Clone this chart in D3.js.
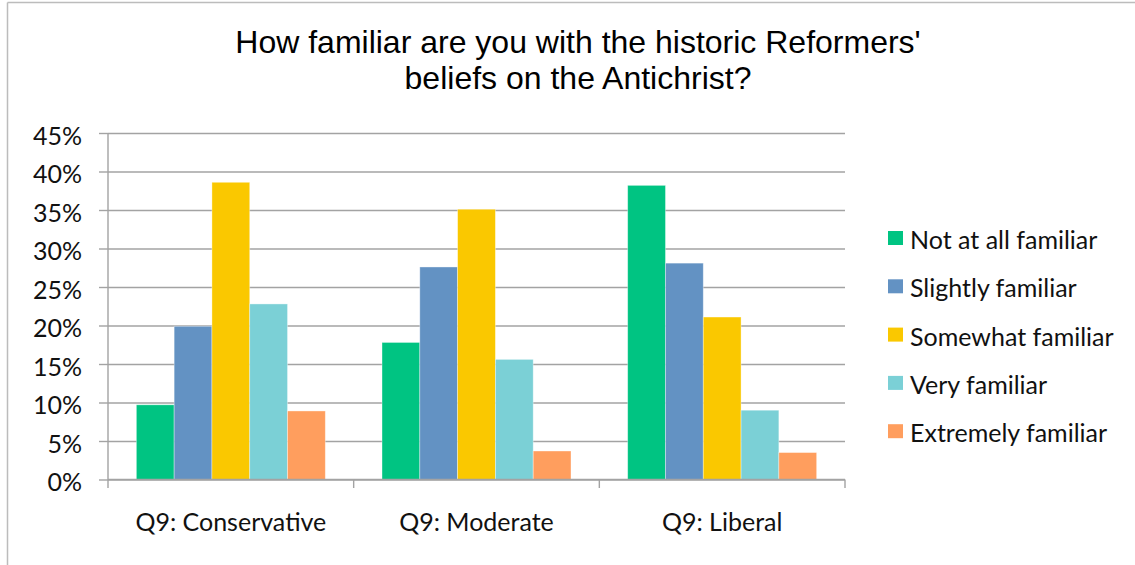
<!DOCTYPE html>
<html>
<head>
<meta charset="utf-8">
<script src="https://cdn.jsdelivr.net/npm/d3@7"></script>
<style>
  html, body { margin: 0; padding: 0; background: #fff; }
  svg { display: block; }
  .lbl { font-family: Lato, "Open Sans", sans-serif; fill: #111; }
</style>
</head>
<body>
<svg id="chart" width="1135" height="565"></svg>
<script>
const titleLines = ["How familiar are you with the historic Reformers'", "beliefs on the Antichrist?"];
const categories = ["Q9: Conservative", "Q9: Moderate", "Q9: Liberal"];
const seriesNames = ["Not at all familiar", "Slightly familiar", "Somewhat familiar", "Very familiar", "Extremely familiar"];
const seriesColors = ["#00C482", "#6392C3", "#FAC800", "#7BD0D6", "#FF9E5E"];
const notAtAll   = [9.7, 17.8, 38.2];
const slightly   = [19.9, 27.6, 28.1];
const somewhat   = [38.6, 35.1, 21.1];
const very       = [22.8, 15.6, 9.0];
const extremely  = [8.9, 3.7, 3.5];
const yTicks = [0, 5, 10, 15, 20, 25, 30, 35, 40, 45];

const seriesValues = [notAtAll, slightly, somewhat, very, extremely];

const svg = d3.select("#chart");

// outer chart border (top and left visible)
svg.append("line").attr("x1", 7.5).attr("x2", 1135).attr("y1", 2.5).attr("y2", 2.5)
  .attr("stroke", "#bcbcbc").attr("stroke-width", 1.5);
svg.append("line").attr("x1", 7.5).attr("x2", 7.5).attr("y1", 2.5).attr("y2", 565)
  .attr("stroke", "#bcbcbc").attr("stroke-width", 1.5);

// title
svg.append("text")
  .attr("text-anchor", "middle")
  .style("font-family", "'Liberation Sans', Arial, sans-serif")
  .style("font-size", "32px").attr("fill", "#000")
  .selectAll("tspan").data(titleLines).join("tspan")
  .attr("x", 578).attr("y", (d, i) => 53 + i * 35.5)
  .text(d => d);

const pLeft = 108, pRight = 845, pTop = 133, pBottom = 479.5;

const x0 = d3.scaleBand().domain(categories).range([pLeft, pRight]).padding(0);
const x1 = d3.scaleBand().domain(d3.range(seriesNames.length)).range([0, x0.bandwidth()])
  .paddingInner(0).paddingOuter(0.75);
const y = d3.scaleLinear().domain([0, 45]).range([pBottom, pTop]);

const gridColor = "#a3a3a3";

// gridlines
const grid = svg.append("g").attr("transform", `translate(${pLeft},0)`)
  .call(d3.axisLeft(y).tickValues(yTicks).tickSize(-(pRight - pLeft)).tickFormat(""));
grid.select(".domain").remove();
grid.selectAll("line").attr("stroke", gridColor).attr("stroke-width", 1.4);

// y axis with labels
const yAxis = svg.append("g").attr("transform", `translate(${pLeft},0)`)
  .call(d3.axisLeft(y).tickValues(yTicks).tickSize(9).tickSizeOuter(0).tickPadding(17)
    .tickFormat(d => d + "%"));
yAxis.select(".domain").remove();
yAxis.selectAll("line").attr("stroke", gridColor).attr("stroke-width", 1.4);
yAxis.selectAll("text").attr("class", "lbl").attr("dy", "0.45em")
  .style("font-size", "25px").style("font-family", "Lato, sans-serif").attr("fill", "#111");

// bars
const groups = svg.append("g").selectAll("g").data(categories).join("g")
  .attr("transform", d => `translate(${x0(d)},0)`);
groups.selectAll("rect")
  .data((c, ci) => seriesValues.map((vals, si) => ({ si, v: vals[ci] })))
  .join("rect")
  .attr("x", d => x1(d.si))
  .attr("width", x1.bandwidth())
  .attr("y", d => y(d.v))
  .attr("height", d => y(0) - y(d.v))
  .attr("fill", d => seriesColors[d.si])
  .attr("stroke", "#ffffff").attr("stroke-opacity", 0.45).attr("stroke-width", 0.8);

// y axis line and x axis line
svg.append("line").attr("x1", pLeft).attr("x2", pLeft).attr("y1", pTop).attr("y2", pBottom + 8.5)
  .attr("stroke", gridColor).attr("stroke-width", 1.4);
svg.append("line").attr("x1", pLeft).attr("x2", pRight).attr("y1", pBottom).attr("y2", pBottom)
  .attr("stroke", gridColor).attr("stroke-width", 1.6);
// category boundary ticks
const boundaries = categories.map(c => x0(c) + x0.bandwidth());
svg.append("g").selectAll("line").data(boundaries).join("line")
  .attr("x1", d => d).attr("x2", d => d).attr("y1", pBottom).attr("y2", pBottom + 8.5)
  .attr("stroke", gridColor).attr("stroke-width", 1.4);

// category labels
svg.append("g").selectAll("text").data(categories).join("text")
  .attr("class", "lbl")
  .attr("x", d => x0(d) + x0.bandwidth() / 2)
  .attr("y", 531)
  .attr("text-anchor", "middle")
  .style("font-size", "25px")
  .text(d => d);

// legend
const legend = svg.append("g").selectAll("g").data(seriesNames).join("g")
  .attr("transform", (d, i) => `translate(888,${231 + i * 48.3})`);
legend.append("rect").attr("width", 15).attr("height", 14)
  .attr("fill", (d, i) => seriesColors[i]);
legend.append("text").attr("class", "lbl")
  .attr("x", 22).attr("y", 18)
  .style("font-size", "25px")
  .text(d => d);
</script>
</body>
</html>
